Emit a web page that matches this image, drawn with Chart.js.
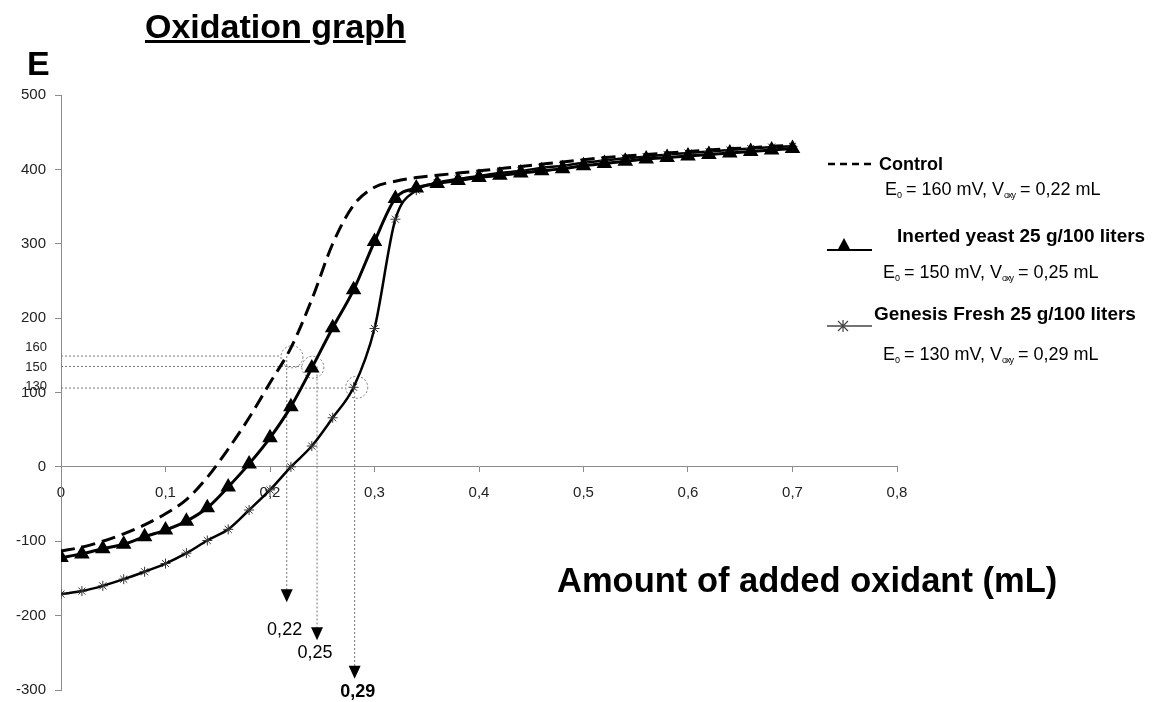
<!DOCTYPE html>
<html>
<head>
<meta charset="utf-8">
<script src="https://cdn.jsdelivr.net/npm/chart.js@4.4.1/dist/chart.umd.min.js"></script>
<style>
  html, body { margin: 0; padding: 0; background: #fff; }
  #wrap { position: relative; width: 1163px; height: 702px; font-family: "Liberation Sans", Arial, sans-serif; color: #000; }
  #chart { position: absolute; left: 0; top: 0; }
  .txt { position: absolute; white-space: nowrap; line-height: 1; }
  .big { font-weight: bold; }
  .leg { font-size: 18px; }
  .legb { font-size: 19px; font-weight: bold; }
  sub { font-size: 9px; vertical-align: -3px; letter-spacing: -1px; }
</style>
</head>
<body>
<div id="wrap">
  <canvas id="chart" width="1163" height="702"></canvas>
  <div class="txt big" style="left:145px; top:9px; font-size:34px; text-decoration:underline;">Oxidation graph</div>
  <div class="txt big" style="left:27px; top:46px; font-size:34px;">E</div>
  <div class="txt big" style="left:557px; top:563px; font-size:34.5px;">Amount of added oxidant (mL)</div>

  <div class="txt legb" style="left:879px; top:155px; font-size:18px;">Control</div>
  <div class="txt leg" style="left:885px; top:180px;">E<sub>0</sub> = 160 mV, V<sub>oxy</sub> = 0,22 mL</div>
  <div class="txt legb" style="left:897px; top:226px;">Inerted yeast 25 g/100 liters</div>
  <div class="txt leg" style="left:883px; top:263px;">E<sub>0</sub> = 150 mV, V<sub>oxy</sub> = 0,25 mL</div>
  <div class="txt legb" style="left:874px; top:304px;">Genesis Fresh 25 g/100 liters</div>
  <div class="txt leg" style="left:883px; top:345px;">E<sub>0</sub> = 130 mV, V<sub>oxy</sub> = 0,29 mL</div>
</div>
<script>
// amount of added oxidant (mL)
const oxidantVolumes = [0, 0.02, 0.04, 0.06, 0.08, 0.10, 0.12, 0.14, 0.16, 0.18,
  0.20, 0.22, 0.24, 0.26, 0.28, 0.30, 0.32, 0.34, 0.36, 0.38,
  0.40, 0.42, 0.44, 0.46, 0.48, 0.50, 0.52, 0.54, 0.56, 0.58,
  0.60, 0.62, 0.64, 0.66, 0.68, 0.70];

// E (mV) per series
const controlE = [-113, -108, -100, -90, -78, -63, -44, -14, 24, 66,
  113, 160, 225, 300, 352, 376, 384, 389, 392, 395,
  398, 401, 404, 407, 410, 413, 416, 418, 420, 422,
  424, 426, 428, 429, 431, 432];
const yeastE = [-122, -117, -110, -104, -94, -85, -73, -55, -27, 4,
  39, 81, 133, 187, 238, 303, 361, 375, 381, 385,
  389, 392, 395, 398, 401, 405, 408, 411, 414, 416,
  418, 420, 422, 424, 426, 428];
const genesisE = [-171, -167, -160, -151, -141, -130, -116, -99, -84, -58,
  -31, 0, 28, 66, 107, 186, 333, 372, 382, 387,
  391, 395, 398, 402, 405, 409, 412, 415, 417, 420,
  422, 424, 426, 428, 430, 431];

const xTicks = [0, 0.1, 0.2, 0.3, 0.4, 0.5, 0.6, 0.7, 0.8];
const yTicks = [-300, -200, -100, 0, 100, 200, 300, 400, 500];

// E0 / Voxy construction lines
const guideE = [149, 135, 106];
const guideLabels = ['160', '150', '130'];
const guideLabelE = [161, 134, 108];
const circleVolume = [0.221, 0.241, 0.283];
const circleE = [148, 134, 107];
const guideVolume = [0.216, 0.245, 0.281];
const arrowTipE = [-182, -233, -285];
const voxyLabels = ['0,22', '0,25', '0,29'];
const voxyLabelVolume = [0.214, 0.243, 0.284];
const voxyLabelE = [-219, -250, -303];

function toPoints(values) {
    return oxidantVolumes.map((v, i) => ({ x: v, y: values[i] }));
}

const FONT = 'Liberation Sans, Arial, sans-serif';

const guidesPlugin = {
    id: 'guides',
    beforeDatasetsDraw(chart) {
        const ctx = chart.ctx;
        const xs = chart.scales.x;
        const ys = chart.scales.y;
        const r = 11;
        ctx.save();
        ctx.strokeStyle = '#777';
        ctx.lineWidth = 1;
        ctx.setLineDash([2, 2]);
        for (let i = 0; i < guideE.length; i++) {
            const cx = xs.getPixelForValue(circleVolume[i]);
            const cy = ys.getPixelForValue(circleE[i]);
            const gy = ys.getPixelForValue(guideE[i]);
            const gx = xs.getPixelForValue(guideVolume[i]);
            // horizontal line
            ctx.beginPath();
            ctx.moveTo(xs.getPixelForValue(0), gy);
            ctx.lineTo(cx - r, gy);
            ctx.stroke();
            // circle
            ctx.beginPath();
            ctx.arc(cx, cy, r, 0, Math.PI * 2);
            ctx.stroke();
            // vertical line
            ctx.beginPath();
            ctx.moveTo(gx, gy);
            ctx.lineTo(gx, ys.getPixelForValue(arrowTipE[i]) - 12);
            ctx.stroke();
        }
        ctx.restore();
    },
    afterDraw(chart) {
        const ctx = chart.ctx;
        const xs = chart.scales.x;
        const ys = chart.scales.y;
        ctx.save();
        // arrows and Voxy labels
        for (let i = 0; i < arrowTipE.length; i++) {
            const gx = xs.getPixelForValue(guideVolume[i]);
            const ty = ys.getPixelForValue(arrowTipE[i]);
            ctx.fillStyle = '#000';
            ctx.beginPath();
            ctx.moveTo(gx - 6, ty - 13);
            ctx.lineTo(gx + 6, ty - 13);
            ctx.lineTo(gx, ty);
            ctx.closePath();
            ctx.fill();
            ctx.font = (i === 2 ? 'bold ' : '') + '18px ' + FONT;
            ctx.textAlign = 'center';
            ctx.textBaseline = 'middle';
            ctx.fillText(voxyLabels[i], xs.getPixelForValue(voxyLabelVolume[i]), ys.getPixelForValue(voxyLabelE[i]));
        }
        // small E0 labels next to the axis
        ctx.font = '13px ' + FONT;
        ctx.fillStyle = '#222';
        ctx.textAlign = 'right';
        ctx.textBaseline = 'middle';
        for (let i = 0; i < guideLabels.length; i++) {
            ctx.fillText(guideLabels[i], 47, ys.getPixelForValue(guideLabelE[i]));
        }
        // legend symbols
        ctx.strokeStyle = '#000';
        ctx.fillStyle = '#000';
        ctx.lineWidth = 2.5;
        ctx.setLineDash([7, 5]);
        ctx.beginPath();
        ctx.moveTo(828, 164);
        ctx.lineTo(876, 164);
        ctx.stroke();
        ctx.setLineDash([]);
        ctx.lineWidth = 2;
        ctx.beginPath();
        ctx.moveTo(827, 250);
        ctx.lineTo(872, 250);
        ctx.stroke();
        ctx.beginPath();
        ctx.moveTo(844, 238);
        ctx.lineTo(851, 251);
        ctx.lineTo(837, 251);
        ctx.closePath();
        ctx.fill();
        ctx.strokeStyle = '#444';
        ctx.lineWidth = 1.5;
        ctx.beginPath();
        ctx.moveTo(827, 326);
        ctx.lineTo(872, 326);
        ctx.stroke();
        ctx.lineWidth = 1.2;
        ctx.beginPath();
        ctx.moveTo(843, 320); ctx.lineTo(843, 332);
        ctx.moveTo(838, 321); ctx.lineTo(848, 331);
        ctx.moveTo(848, 321); ctx.lineTo(838, 331);
        ctx.stroke();
        ctx.restore();
    }
};

const axisColor = '#8c8c8c';

new Chart(document.getElementById('chart'), {
    type: 'line',
    data: {
        datasets: [{
            label: 'Control',
            data: toPoints(controlE),
            borderColor: '#000',
            borderWidth: 3,
            borderDash: [14, 7],
            pointRadius: 0,
            cubicInterpolationMode: 'monotone'
        }, {
            label: 'Inerted yeast 25 g/100 liters',
            data: toPoints(yeastE),
            borderColor: '#000',
            borderWidth: 3,
            pointStyle: 'triangle',
            pointRadius: 6,
            pointBackgroundColor: '#000',
            pointBorderColor: '#000',
            cubicInterpolationMode: 'monotone'
        }, {
            label: 'Genesis Fresh 25 g/100 liters',
            data: toPoints(genesisE),
            borderColor: '#000',
            borderWidth: 2.5,
            pointStyle: 'star',
            pointRadius: 5,
            pointBorderColor: '#333',
            pointBorderWidth: 1,
            cubicInterpolationMode: 'monotone'
        }]
    },
    options: {
        responsive: false,
        animation: false,
        layout: { padding: { left: 0, right: 266, top: 95, bottom: 12 } },
        plugins: {
            legend: { display: false },
            tooltip: { enabled: false }
        },
        scales: {
            x: {
                type: 'linear',
                min: 0,
                max: 0.8,
                position: { y: 0 },
                afterBuildTicks: (scale) => { scale.ticks = xTicks.map(v => ({ value: v })); },
                afterFit: (scale) => { scale.paddingLeft = 0; scale.paddingRight = 0; scale.paddingTop = 0; scale.paddingBottom = 0; },
                grid: { drawOnChartArea: false, tickLength: 5, color: axisColor },
                border: { color: axisColor },
                ticks: {
                    padding: 12,
                    color: '#222',
                    maxRotation: 0,
                    font: { family: FONT, size: 15 },
                    callback: (v) => v === 0 ? '0' : v.toFixed(1).replace('.', ',')
                }
            },
            y: {
                min: -300,
                max: 500,
                afterBuildTicks: (scale) => { scale.ticks = yTicks.map(v => ({ value: v })); },
                afterFit: (scale) => { scale.width = 61; scale.paddingTop = 0; scale.paddingBottom = 0; },
                grid: { drawOnChartArea: false, tickLength: 6, color: axisColor },
                border: { color: axisColor },
                ticks: {
                    padding: 9,
                    color: '#222',
                    font: { family: FONT, size: 15 },
                    callback: (v) => String(v)
                }
            }
        }
    },
    plugins: [guidesPlugin]
});
</script>
</body>
</html>
